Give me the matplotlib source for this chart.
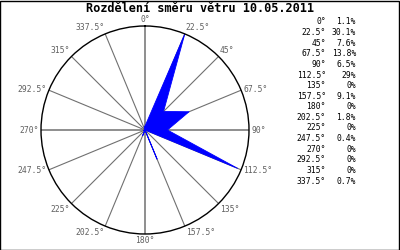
import matplotlib.pyplot as plt
import numpy as np

# Wind direction distribution
directions = [0, 22.5, 45, 67.5, 90, 112.5, 135, 157.5, 180, 202.5,
              225, 247.5, 270, 292.5, 315, 337.5]
direction_labels = ['0°', '22.5°', '45°', '67.5°', '90°', '112.5°', '135°',
                    '157.5°', '180°', '202.5°', '225°', '247.5°', '270°',
                    '292.5°', '315°', '337.5°']
shares = [1.1, 30.1, 7.6, 13.8, 6.5, 29, 0, 9.1, 0, 1.8, 0, 0.4, 0, 0, 0, 0.7]
share_labels = ['1.1%', '30.1%', '7.6%', '13.8%', '6.5%', '29%', '0%', '9.1%',
                '0%', '1.8%', '0%', '0.4%', '0%', '0%', '0%', '0.7%']

mono = 'DejaVu Sans Mono'
fig = plt.figure(figsize=(4, 2.5), dpi=100)
fig.patch.set_facecolor('white')

# black frame around the whole picture
fig.add_artist(plt.Rectangle((0.001, 0.002), 0.997, 0.994, transform=fig.transFigure,
                             fill=False, edgecolor='black', linewidth=1))

fig.text(0.5, 0.968, 'Rozdělení směru větru 10.05.2011', ha='center', va='center',
         family=mono, fontweight='bold', fontsize=8.6)

ax = fig.add_axes([0.1025, 0.064, 0.52, 0.832], projection='polar')
ax.set_theta_zero_location('N')
ax.set_theta_direction(-1)
rmax = max(shares)
ax.set_ylim(0, rmax)
ax.grid(False)
ax.set_xticks([])
ax.set_yticks([])
ax.spines['polar'].set_color('black')
ax.spines['polar'].set_linewidth(1)

theta = np.deg2rad(directions)

# spokes
for d, t in zip(directions, theta):
    lw = 1.1 if d % 90 == 0 else 0.8
    ax.plot([t, t], [0, rmax], color='#707070', linewidth=lw, zorder=1)

# filled rose
tt = np.append(theta, theta[0])
rr = np.append(shares, shares[0])
ax.fill(tt, rr, color='#0000ff', zorder=2, linewidth=0)
ax.plot(tt, rr, color='#0000ff', linewidth=0.6, zorder=2)

# direction labels at spoke ends
for t, lab in zip(theta, direction_labels):
    s, c = np.sin(t), np.cos(t)
    ha = 'left' if s > 0.01 else ('right' if s < -0.01 else 'center')
    va = 'bottom' if c > 0.5 else ('top' if c < -0.5 else 'center')
    ax.text(t, rmax * 1.02, lab, ha=ha, va=va, family=mono, fontsize=5.8,
            color='#606060', clip_on=False)

# table of values on the right
for i, (dl, sl) in enumerate(zip(direction_labels, share_labels)):
    y = 1 - (22 + i * 10.6) / 250
    fig.text(326 / 400, y, dl, ha='right', va='center', family=mono, fontsize=5.8)
    fig.text(356 / 400, y, sl, ha='right', va='center', family=mono, fontsize=5.8)

fig.savefig('out.png', dpi=100)
